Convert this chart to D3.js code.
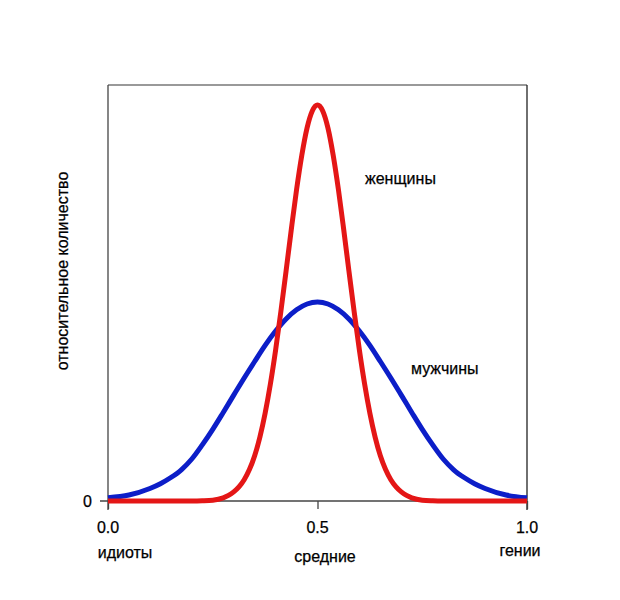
<!DOCTYPE html>
<html><head><meta charset="utf-8">
<script src="https://cdn.jsdelivr.net/npm/d3@7"></script>
<style>body{margin:0;background:#fff}svg{display:block}text{font-family:Arial,"Liberation Sans",sans-serif;fill:#000;stroke:#000;stroke-width:0.25}</style>
</head><body><svg id="c" width="620" height="600"></svg>
<script>
// data
const menX = [0, 0.05, 0.1, 0.125, 0.15, 0.175, 0.2, 0.225, 0.25, 0.275, 0.3, 0.325, 0.35, 0.375, 0.4, 0.425, 0.45, 0.475, 0.5,
              0.525, 0.55, 0.575, 0.6, 0.625, 0.65, 0.675, 0.7, 0.725, 0.75, 0.775, 0.8, 0.825, 0.85, 0.875, 0.9, 0.95, 1.0];
const menY = [0.016, 0.030, 0.063, 0.087, 0.118, 0.157, 0.211, 0.282, 0.36, 0.445, 0.532, 0.618, 0.701, 0.782, 0.854, 0.915, 0.961, 0.99, 1.0,
              0.99, 0.961, 0.915, 0.854, 0.782, 0.701, 0.618, 0.532, 0.445, 0.36, 0.282, 0.211, 0.157, 0.118, 0.087, 0.063, 0.030, 0.016];
const womenX = [0, 0.1, 0.2, 0.225, 0.25, 0.275, 0.2875, 0.3, 0.3125, 0.325, 0.3375, 0.35, 0.3625, 0.375, 0.3875, 0.4, 0.4125, 0.425, 0.4375,
                0.45, 0.4625, 0.475, 0.4875, 0.5, 0.5125, 0.525, 0.5375, 0.55, 0.5625, 0.575, 0.5875, 0.6, 0.6125, 0.625, 0.6375,
                0.65, 0.6625, 0.675, 0.6875, 0.7, 0.7125, 0.725, 0.75, 0.775, 0.8, 0.9, 1.0];
const womenY = [0, 0, 0, 0.001, 0.004, 0.016, 0.028, 0.046, 0.071, 0.107, 0.158, 0.227, 0.321, 0.441, 0.587, 0.758, 0.951, 1.156, 1.365,
                1.564, 1.737, 1.874, 1.96, 1.99, 1.96, 1.874, 1.737, 1.564, 1.365, 1.156, 0.951, 0.758, 0.587, 0.441, 0.321,
                0.227, 0.158, 0.107, 0.071, 0.046, 0.028, 0.016, 0.004, 0.001, 0, 0, 0];
const xTicks = [0, 0.5, 1.0];
const xTickLabels = ["0.0", "0.5", "1.0"];
const xCatLabels = ["идиоты", "средние", "гении"];
const yTitle = "относительное количество";
const seriesNames = ["женщины", "мужчины"];

const svg = d3.select("#c");
const L = 108, R = 527, T = 85, B = 501;
const x = d3.scaleLinear().domain([0, 1]).range([L, R]);
const y = d3.scaleLinear().domain([0, (B - T) / 199]).range([B, T]);
const axisCol = "#444";

// frame
svg.append("line").attr("x1", L).attr("x2", R).attr("y1", T).attr("y2", T).attr("stroke", "#777").attr("stroke-width", 1.5);
svg.append("line").attr("x1", L).attr("x2", L).attr("y1", T).attr("y2", B + 9).attr("stroke", axisCol).attr("stroke-width", 1.3);
svg.append("line").attr("x1", R).attr("x2", R).attr("y1", T).attr("y2", B + 9).attr("stroke", "#222").attr("stroke-width", 1.3);

// x axis at zero
const xAxis = d3.axisBottom(x).tickValues(xTicks).tickSize(8).tickFormat("");
const gx = svg.append("g").attr("transform", `translate(0,${y(0)})`).call(xAxis);
gx.select(".domain").remove();
gx.selectAll(".tick line").attr("stroke", axisCol).attr("stroke-width", 1.3);
svg.append("line").attr("x1", L - 8).attr("x2", R).attr("y1", y(0)).attr("y2", y(0)).attr("stroke", axisCol).attr("stroke-width", 1.3);
svg.append("text").attr("x", L - 16).attr("y", y(0) + 6).attr("text-anchor", "end").attr("font-size", 16).text("0");

xTicks.forEach((t, i) => {
  svg.append("text").attr("x", x(t)).attr("y", 533).attr("text-anchor", "middle").attr("font-size", 16).text(xTickLabels[i]);
});
const catPos = [[125, 558], [325, 562], [520, 556]];
xCatLabels.forEach((s, i) => {
  svg.append("text").attr("x", catPos[i][0]).attr("y", catPos[i][1]).attr("text-anchor", "middle").attr("font-size", 16).text(s);
});
svg.append("text").attr("transform", "translate(68,271) rotate(-90)").attr("text-anchor", "middle").attr("font-size", 16).text(yTitle);

const mk = xa => d3.line().x((d, i) => x(xa[i])).y(d => y(d)).curve(d3.curveMonotoneX);
svg.append("path").datum(menY).attr("d", mk(menX)).attr("fill", "none").attr("stroke", "#0c1ec8").attr("stroke-width", 5).attr("stroke-linejoin", "round");
svg.append("path").datum(womenY).attr("d", mk(womenX)).attr("fill", "none").attr("stroke", "#e41616").attr("stroke-width", 5).attr("stroke-linejoin", "round");

svg.append("text").attr("x", 365).attr("y", 184).attr("font-size", 16).text(seriesNames[0]);
svg.append("text").attr("x", 411).attr("y", 374).attr("font-size", 16).text(seriesNames[1]);
</script></body></html>
